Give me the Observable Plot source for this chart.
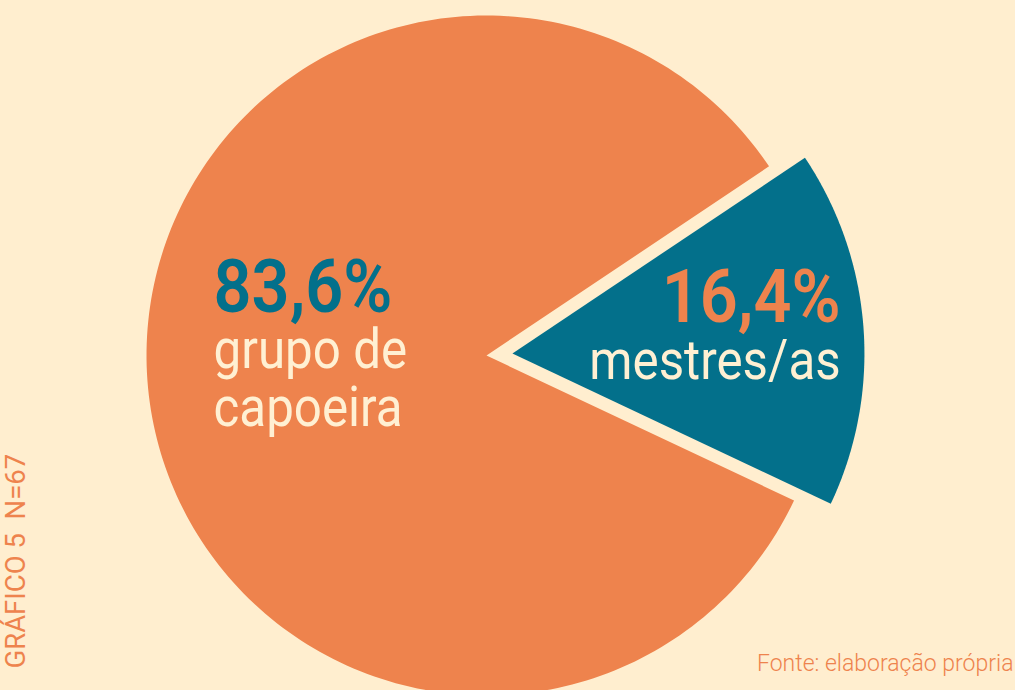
<!DOCTYPE html>
<html><head><meta charset="utf-8">
<script src="https://cdn.jsdelivr.net/npm/d3@7"></script>
<script src="https://cdn.jsdelivr.net/npm/@observablehq/plot@0.6"></script>
<style>
html,body{margin:0;padding:0;background:#FFEECF;}
#chart{width:1015px;height:690px;overflow:hidden}
</style></head><body><div id="chart"></div>
<script>
// ---- data ----
const categorias = ["mestres/as", "grupo de capoeira"];
const valores = [16.4, 83.6];
const rotulosValor = ["16,4%", "83,6%"];
const rotulosNome = ["mestres/as", "grupo de\ncapoeira"];
const titulo = "GRÁFICO 5  N=67";
const fonte = "Fonte: elaboração própria";

// ---- styles / layout ----
const cores = ["#03708B", "#EE834D"];
const coresValor = ["#EE834D", "#03708B"];
const creme = "#FFF0D3";
const W = 1015, H = 690;
const R = 340, CX = 486, CY = 355;
const inicio = 56.2 * Math.PI / 180;
const destaque = {"mestres/as": {offset: 26 / R, escala: 352 / R}};
const raioRotulo = {"mestres/as": 0.935, "grupo de capoeira": 0.805};
const ancora = {"mestres/as": "end", "grupo de capoeira": "start"};
const dyValor = {"mestres/as": -7, "grupo de capoeira": -64};
const dyNome = {"mestres/as": 50, "grupo de capoeira": 50};

const arcos = d3.pie().sort(null).startAngle(inicio).endAngle(inicio + 2 * Math.PI)(valores);
const fatias = arcos.map((a, i) => {
  const cat = categorias[i];
  const ex = destaque[cat] || {offset: 0, escala: 1};
  const mid = (a.startAngle + a.endAngle) / 2;
  const ox = ex.offset * Math.sin(mid), oy = ex.offset * Math.cos(mid);
  const k = raioRotulo[cat] * ex.escala;
  return {
    cat, a, mid, ox, oy, r: ex.escala,
    lx: ox + k * Math.sin(mid), ly: oy + k * Math.cos(mid),
    valor: rotulosValor[i], nome: rotulosNome[i], corValor: coresValor[i]
  };
});

const pontos = [];
for (const f of fatias) {
  pontos.push({slice: f.cat, x: f.ox, y: f.oy});
  const n = 240;
  for (let k = 0; k <= n; k++) {
    const t = f.a.startAngle + (f.a.endAngle - f.a.startAngle) * k / n;
    pontos.push({slice: f.cat, x: f.ox + f.r * Math.sin(t), y: f.oy + f.r * Math.cos(t)});
  }
}

const marcas = [
  Plot.line(pontos, {x: "x", y: "y", z: "slice", fill: "slice", stroke: "none", curve: "linear-closed"})
];
for (const f of fatias) {
  marcas.push(Plot.text([f], {
    x: "lx", y: "ly", text: "valor", fill: f.corValor,
    fontSize: 74, fontWeight: 600, textAnchor: ancora[f.cat], lineAnchor: "bottom", dy: dyValor[f.cat]
  }));
  marcas.push(Plot.text([f], {
    x: "lx", y: "ly", text: "nome", fill: creme,
    fontSize: 56, fontWeight: 400, textAnchor: ancora[f.cat], lineAnchor: "bottom", lineHeight: 1.04, dy: dyNome[f.cat]
  }));
}
marcas.push(Plot.text([titulo], {
  frameAnchor: "bottom-left", rotate: -90, textAnchor: "start", dx: 24, dy: -22,
  fontSize: 27.5, fontWeight: 400, fill: "#EE834D"
}));
marcas.push(Plot.text([fonte], {
  frameAnchor: "bottom-right", textAnchor: "end", lineAnchor: "bottom", dx: -2, dy: -20,
  fontSize: 23, fontWeight: 300, fill: "#EE834D"
}));

const svg = Plot.plot({
  width: W, height: H, margin: 0,
  x: {domain: [-CX / R, (W - CX) / R], axis: null},
  y: {domain: [-(H - CY) / R, CY / R], axis: null},
  color: {domain: categorias, range: cores},
  style: {fontFamily: "Roboto, 'Noto Sans', sans-serif", background: "#FFEECF", overflow: "visible"},
  marks: marcas
});
document.getElementById("chart").append(svg);

// condensed look (Roboto Condensed is not installed)
const fator = new Map();
rotulosValor.forEach(t => fator.set(t, 0.9));
rotulosNome.forEach(t => t.split("\n").forEach(l => fator.set(l, 0.88)));
svg.querySelectorAll("text").forEach(t => {
  const spans = t.querySelectorAll("tspan");
  const els = spans.length ? Array.from(spans) : [t];
  els.forEach(el => {
    const f = fator.get(el.textContent);
    if (f) {
      const L = el.getComputedTextLength();
      el.setAttribute("textLength", (L * f).toFixed(1));
      el.setAttribute("lengthAdjust", "spacingAndGlyphs");
    }
  });
});
</script>
</body></html>
